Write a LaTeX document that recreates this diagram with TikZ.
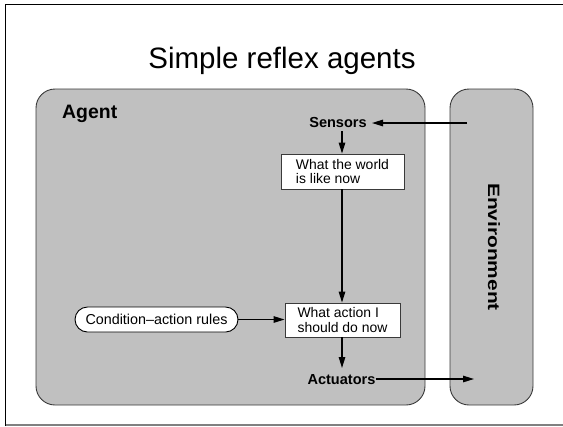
\documentclass[tikz,border=0pt]{standalone}
\usepackage{fontspec}
\setmainfont{Liberation Sans}
\usetikzlibrary{arrows.meta}
\definecolor{panel}{HTML}{C0C0C0}
\definecolor{edge}{HTML}{3A3A3A}
\tikzset{
  panelbox/.style={draw=edge, line width=0.9bp, fill=panel, rounded corners=19bp},
  stepbox/.style={draw=edge, line width=0.9bp, fill=white, inner sep=0pt,
    font=\fontsize{14}{15}\selectfont, align=left},
  rulebox/.style={draw=black, line width=0.9bp, fill=white, rounded corners=12.5bp,
    inner sep=0pt, minimum width=163bp, minimum height=25bp, font=\fontsize{14.4}{16}\selectfont},
  portlabel/.style={font=\fontsize{14.6}{16}\selectfont\bfseries, inner sep=0pt, anchor=base},
  flow/.style={line width=1.3bp, -{Triangle[length=11bp,width=6.5bp]}},
}
\begin{document}
\begin{tikzpicture}[x=1bp, y=-1bp]
  \useasboundingbox (0,0) rectangle (563,426);
  % slide frame
  \draw[line width=1.5bp] (5.5,426) -- (5.5,4.5) -- (563,4.5);
  \draw[line width=1.3bp, gray] (5.5,425) -- (563,425);
  % title
  \node[anchor=base, inner sep=0pt, font=\fontsize{29.6}{32}\selectfont] (title) at (282,68) {Simple reflex agents};
  % agent and environment panels
  \draw[panelbox] (36,89) rectangle (425,405);
  \draw[panelbox] (450,89) rectangle (533,405);
  \node[anchor=base west, inner sep=0pt, font=\fontsize{19.5}{21}\selectfont\bfseries] (agent) at (62,118) {Agent};
  \node[rotate=-90, inner sep=0pt, font=\fontsize{16.5}{18}\selectfont\bfseries] (env) at (494,247)
    {\scalebox{1.27}[1]{Environment}};
  % components
  \node[portlabel] (sensors) at (338,127) {Sensors};
  \node[stepbox, minimum width=123bp, minimum height=35bp] (world) at (342.5,171.5)
    {What the world\\is like now};
  \node[stepbox, minimum width=115bp, minimum height=34bp] (action) at (342.5,320)
    {What action I\\should do now};
  \node[rulebox] (rules) at (156.5,319.5) {Condition--action rules};
  \node[portlabel] (actuators) at (341.5,384) {Actuators};
  % free ends inside the environment
  \coordinate (percept) at (467,123);
  \coordinate (effect) at (474,379);
  % connections
  \draw[flow] (percept) -- (372,123);
  \draw[flow] (342,131) -- (world.north -| 342,0);
  \draw[flow] (world.south -| 342,0) -- (action.north -| 342,0);
  \draw[flow] (rules.east) -- (action.west |- rules.east);
  \draw[flow] (action.south -| 342,0) -- (342,368);
  \draw[flow] (actuators.east |- effect) -- (effect);
\end{tikzpicture}
\end{document}
